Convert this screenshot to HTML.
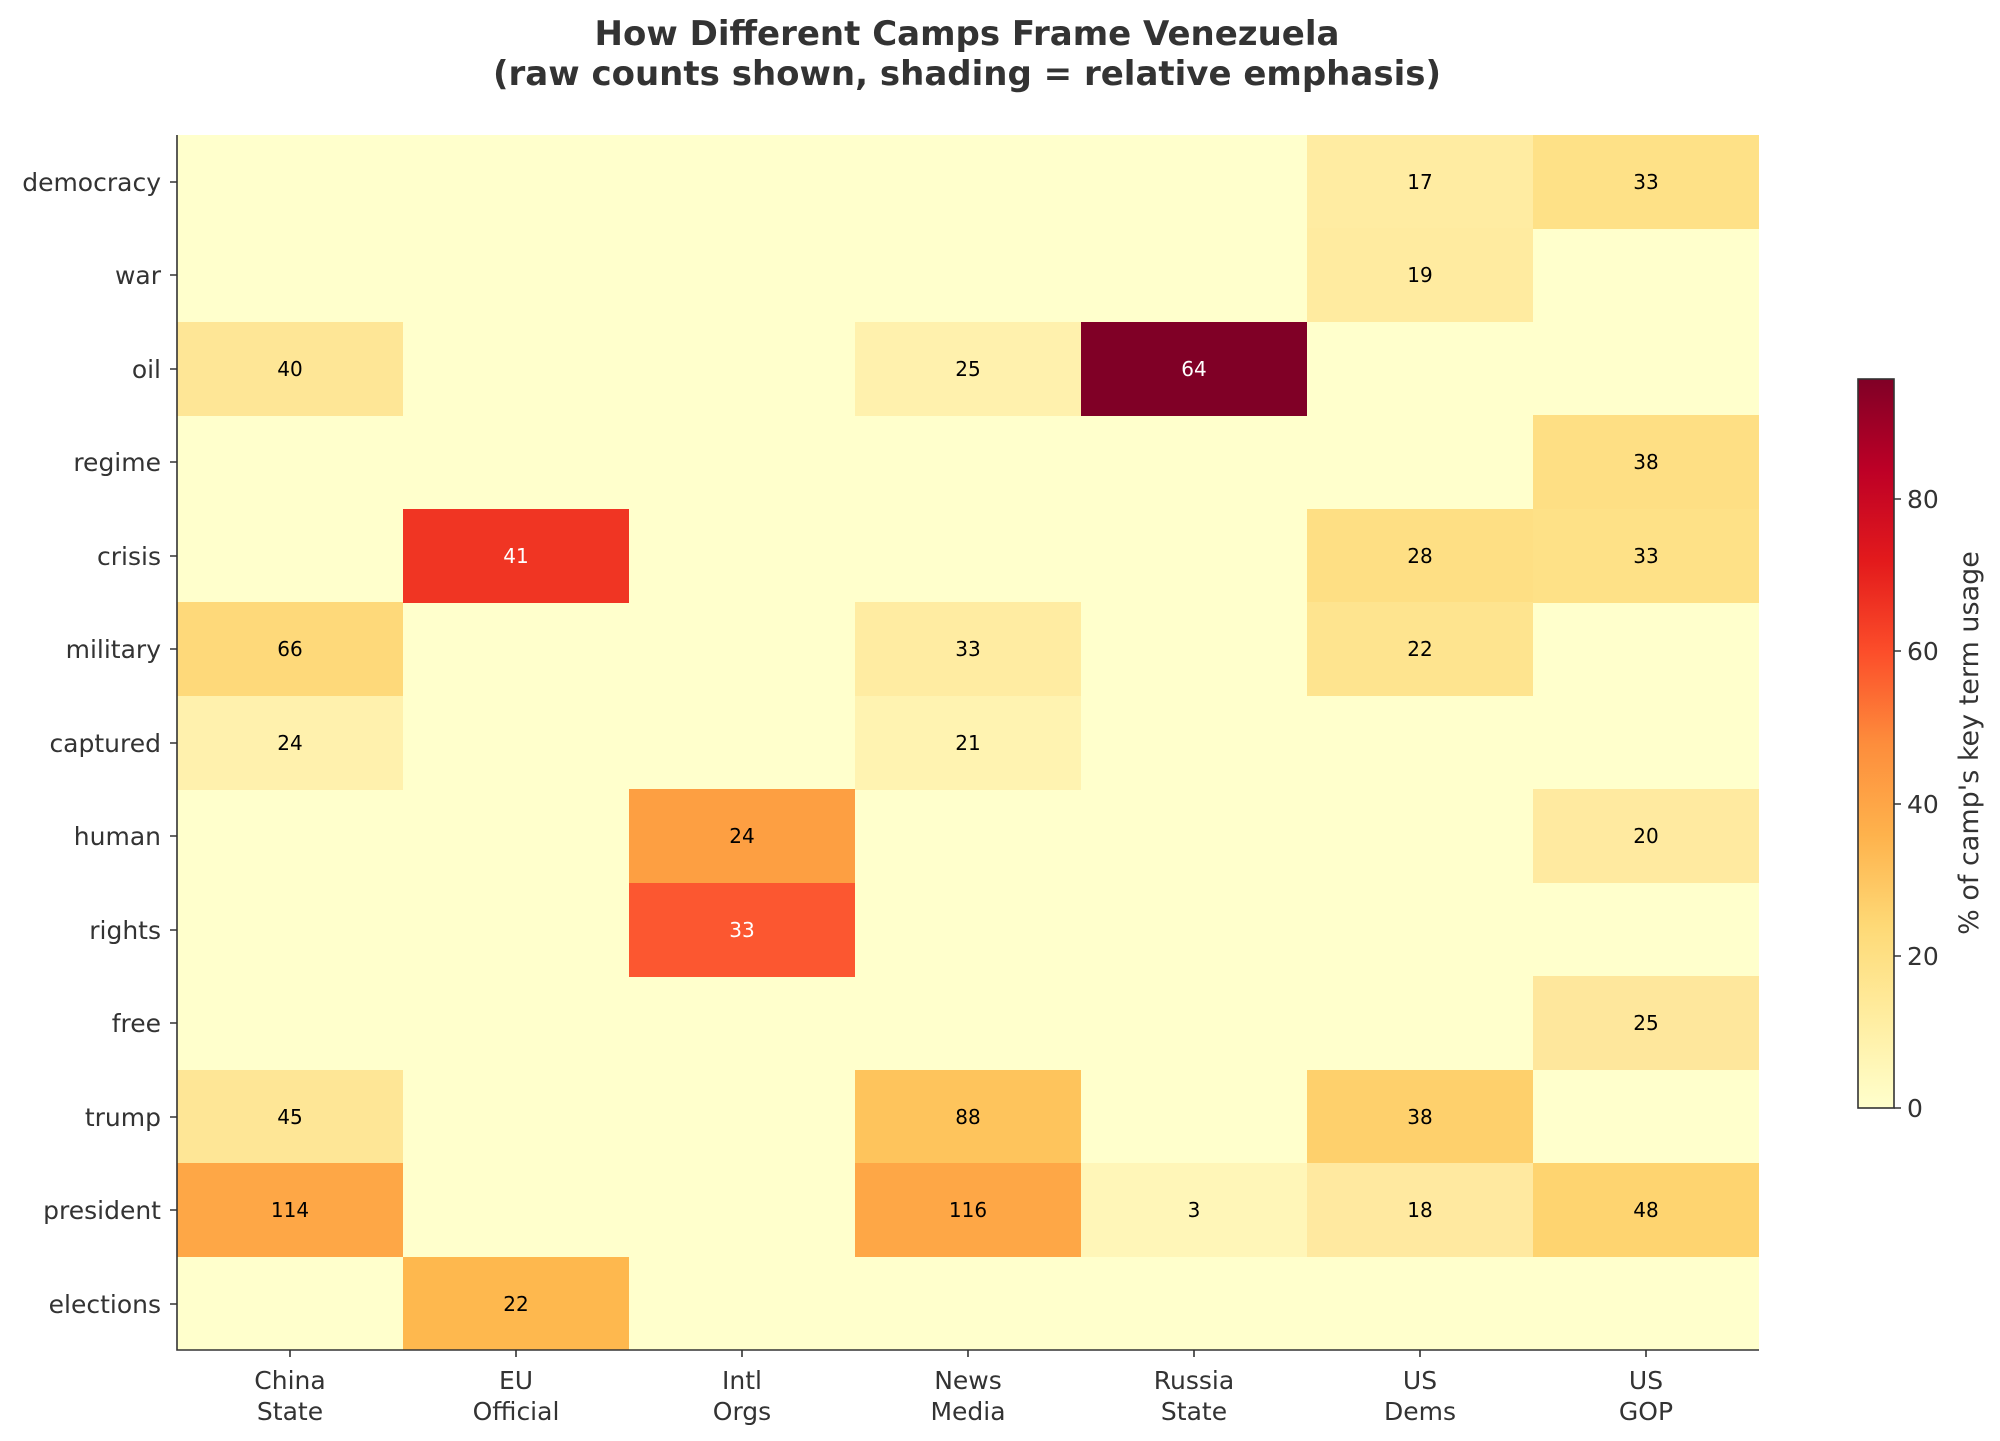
<!DOCTYPE html>
<html><head><meta charset="utf-8"><style>body{margin:0;background:#fff}svg{display:block}</style></head><body>
<svg width="2000" height="1441" viewBox="0 0 2000 1441" xmlns="http://www.w3.org/2000/svg" font-family="DejaVu Sans, Liberation Sans, sans-serif">
<defs><linearGradient id="g" x1="0" y1="1" x2="0" y2="0">
<stop offset="0" stop-color="#ffffcc"/><stop offset="0.125" stop-color="#ffeda0"/><stop offset="0.25" stop-color="#fed976"/><stop offset="0.375" stop-color="#feb24c"/><stop offset="0.5" stop-color="#fd8d3c"/><stop offset="0.625" stop-color="#fc4e2a"/><stop offset="0.75" stop-color="#e31a1c"/><stop offset="0.875" stop-color="#bd0026"/><stop offset="1" stop-color="#800026"/></linearGradient></defs>
<text x="967" y="45" font-size="34" font-weight="bold" fill="#333" text-anchor="middle">How Different Camps Frame Venezuela</text>
<text x="967" y="85" font-size="34" font-weight="bold" fill="#333" text-anchor="middle">(raw counts shown, shading = relative emphasis)</text>
<rect x="177" y="135" width="1582" height="1215" fill="#ffffcc"/>
<g font-size="20" text-anchor="middle">
<rect x="1307" y="135" width="226" height="94" fill="#ffeca2"/><text x="1420" y="189">17</text>
<rect x="1533" y="135" width="226" height="94" fill="#fee187"/><text x="1646" y="189">33</text>
<rect x="1307" y="228" width="226" height="94" fill="#ffeba0"/><text x="1420" y="282">19</text>
<rect x="177" y="322" width="226" height="94" fill="#fee696"/><text x="290" y="376">40</text>
<rect x="855" y="322" width="226" height="94" fill="#fff1ad"/><text x="968" y="376">25</text>
<rect x="1081" y="322" width="226" height="94" fill="#800026"/><text x="1194" y="376" fill="#fff">64</text>
<rect x="1533" y="415" width="226" height="94" fill="#fedf84"/><text x="1646" y="469">38</text>
<rect x="403" y="509" width="226" height="94" fill="#f03523"/><text x="516" y="563" fill="#fff">41</text>
<rect x="1307" y="509" width="226" height="94" fill="#fedf84"/><text x="1420" y="563">28</text>
<rect x="1533" y="509" width="226" height="94" fill="#fee187"/><text x="1646" y="563">33</text>
<rect x="177" y="602" width="226" height="94" fill="#fed97a"/><text x="290" y="656">66</text>
<rect x="855" y="602" width="226" height="94" fill="#ffeca2"/><text x="968" y="656">33</text>
<rect x="1307" y="602" width="226" height="94" fill="#fee48f"/><text x="1420" y="656">22</text>
<rect x="177" y="696" width="226" height="94" fill="#fff1ad"/><text x="290" y="750">24</text>
<rect x="855" y="696" width="226" height="94" fill="#fff3b1"/><text x="968" y="750">21</text>
<rect x="629" y="789" width="226" height="94" fill="#fd9f42"/><text x="742" y="843">24</text>
<rect x="1533" y="789" width="226" height="94" fill="#ffeaa0"/><text x="1646" y="843">20</text>
<rect x="629" y="883" width="226" height="94" fill="#fc5730"/><text x="742" y="937" fill="#fff">33</text>
<rect x="1533" y="976" width="226" height="94" fill="#fee79c"/><text x="1646" y="1030">25</text>
<rect x="177" y="1070" width="226" height="94" fill="#fee696"/><text x="290" y="1124">45</text>
<rect x="855" y="1070" width="226" height="94" fill="#fec45c"/><text x="968" y="1124">88</text>
<rect x="1307" y="1070" width="226" height="94" fill="#fed06c"/><text x="1420" y="1124">38</text>
<rect x="177" y="1163" width="226" height="94" fill="#fea746"/><text x="290" y="1217">114</text>
<rect x="855" y="1163" width="226" height="94" fill="#fea746"/><text x="968" y="1217">116</text>
<rect x="1081" y="1163" width="226" height="94" fill="#fff6b8"/><text x="1194" y="1217">3</text>
<rect x="1307" y="1163" width="226" height="94" fill="#ffe9a0"/><text x="1420" y="1217">18</text>
<rect x="1533" y="1163" width="226" height="94" fill="#fed470"/><text x="1646" y="1217">48</text>
<rect x="403" y="1257" width="226" height="93" fill="#feb84e"/><text x="516" y="1311">22</text>
</g>
<path d="M177 135V1350H1759" fill="none" stroke="#333" stroke-width="1.6"/>
<g stroke="#333" stroke-width="1.6">
<path d="M170 182H177M170 275H177M170 369H177M170 462H177M170 556H177M170 649H177M170 743H177M170 836H177M170 930H177M170 1023H177M170 1117H177M170 1210H177M170 1304H177"/>
<path d="M290 1350V1357M516 1350V1357M742 1350V1357M968 1350V1357M1194 1350V1357M1420 1350V1357M1646 1350V1357"/>
</g>
<g font-size="25" fill="#333" text-anchor="end">
<text x="161" y="191">democracy</text><text x="161" y="284">war</text><text x="161" y="378">oil</text><text x="161" y="471">regime</text><text x="161" y="565">crisis</text><text x="161" y="658">military</text><text x="161" y="752">captured</text><text x="161" y="845">human</text><text x="161" y="939">rights</text><text x="161" y="1032">free</text><text x="161" y="1126">trump</text><text x="161" y="1219">president</text><text x="161" y="1313">elections</text>
</g>
<g font-size="25" fill="#333" text-anchor="middle">
<text x="290" y="1389">China</text><text x="290" y="1420">State</text>
<text x="516" y="1389">EU</text><text x="516" y="1420">Official</text>
<text x="742" y="1389">Intl</text><text x="742" y="1420">Orgs</text>
<text x="968" y="1389">News</text><text x="968" y="1420">Media</text>
<text x="1194" y="1389">Russia</text><text x="1194" y="1420">State</text>
<text x="1420" y="1389">US</text><text x="1420" y="1420">Dems</text>
<text x="1646" y="1389">US</text><text x="1646" y="1420">GOP</text>
</g>
<rect x="1858" y="379" width="36" height="729" fill="url(#g)" stroke="#333" stroke-width="1.6"/>
<g stroke="#333" stroke-width="1.6"><path d="M1894 1108H1901M1894 956H1901M1894 804H1901M1894 651H1901M1894 499H1901"/></g>
<g font-size="25" fill="#333"><text x="1907" y="1117">0</text><text x="1907" y="965">20</text><text x="1907" y="813">40</text><text x="1907" y="660">60</text><text x="1907" y="508">80</text></g>
<text transform="translate(1978 743) rotate(-90)" font-size="27" fill="#333" text-anchor="middle">% of camp's key term usage</text>
</svg>
</body></html>
